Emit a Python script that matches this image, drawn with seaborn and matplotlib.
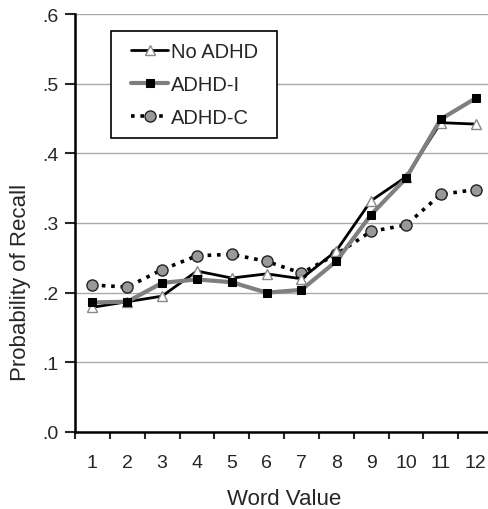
import numpy as np
import pandas as pd
import matplotlib
matplotlib.use("Agg")
import matplotlib.pyplot as plt
from matplotlib.lines import Line2D
from matplotlib.legend_handler import HandlerLine2D
import seaborn as sns

# values
word_value = list(range(1, 13))
no_adhd = [0.179, 0.187, 0.195, 0.231, 0.221, 0.227, 0.220, 0.260, 0.332, 0.366, 0.444, 0.442]
adhd_i = [0.186, 0.187, 0.214, 0.219, 0.215, 0.200, 0.204, 0.245, 0.312, 0.364, 0.449, 0.479]
adhd_c = [0.211, 0.208, 0.233, 0.253, 0.255, 0.245, 0.228, 0.255, 0.288, 0.297, 0.341, 0.348]
y_ticks = [0.0, 0.1, 0.2, 0.3, 0.4, 0.5, 0.6]
y_tick_labels = [".0", ".1", ".2", ".3", ".4", ".5", ".6"]

sns.set_style("white")
plt.rcParams["font.family"] = ["Liberation Sans", "DejaVu Sans"]

fig = plt.figure(figsize=(4.88, 5.10), dpi=100)
ax = fig.add_axes([75 / 488, 77 / 510, 418 / 488, 418 / 510])

df_c = pd.DataFrame({"x": word_value, "y": adhd_c})
df_n = pd.DataFrame({"x": word_value, "y": no_adhd})
df_i = pd.DataFrame({"x": word_value, "y": adhd_i})

sns.lineplot(data=df_c, x="x", y="y", ax=ax, color="black", linestyle=(0, (1, 1.6)),
             linewidth=2.6, marker="o", markersize=8, markerfacecolor="#999999",
             markeredgecolor="#222222", markeredgewidth=1.0, label="ADHD-C", zorder=3)
sns.lineplot(data=df_n, x="x", y="y", ax=ax, color="black", linewidth=2.0,
             marker="^", markersize=7.5, markerfacecolor="white",
             markeredgecolor="#888888", markeredgewidth=1.0, label="No ADHD", zorder=4)
sns.lineplot(data=df_i, x="x", y="y", ax=ax, color="#7f7f7f", linewidth=3.0,
             marker="s", markersize=6.2, markerfacecolor="black",
             markeredgecolor="black", label="ADHD-I", zorder=5)

ax.set_xlim(0.5, 12.5)
ax.set_ylim(0, 0.6)
ax.set_yticks(y_ticks)
ax.set_yticklabels(y_tick_labels)
ax.set_xticks(word_value)
ax.set_xticks(np.arange(0.5, 13, 1), minor=True)
ax.tick_params(axis="x", which="major", length=0, labelsize=14, pad=16)
ax.tick_params(axis="x", which="minor", length=5, width=1.5, direction="out", bottom=True)
ax.tick_params(axis="y", length=7, width=1.5, direction="out", left=True, labelsize=14, pad=5)

ax.yaxis.grid(True, color="#aaaaaa", linewidth=1)
ax.set_axisbelow(True)
for side in ["top", "right"]:
    ax.spines[side].set_visible(False)
for side in ["left", "bottom"]:
    ax.spines[side].set_color("black")
    ax.spines[side].set_linewidth(1.8)

ax.set_xlabel("Word Value", fontsize=16, labelpad=12)
ax.set_ylabel("Probability of Recall", fontsize=16, labelpad=8, y=0.36)

handles, labels = ax.get_legend_handles_labels()
order = [labels.index(n) for n in ["No ADHD", "ADHD-I", "ADHD-C"]]
leg = ax.legend([handles[i] for i in order], [labels[i] for i in order],
                loc="upper left", mode="expand",
                bbox_to_anchor=(36 / 418, 1 - 17 / 418, 166 / 418, 0.0),
                handler_map={Line2D: HandlerLine2D(xpad=0.45)},
                fontsize=14.5, frameon=True, fancybox=False, edgecolor="black",
                framealpha=1, handlelength=2.3, handletextpad=0.15,
                labelspacing=0.7, borderpad=0.55, borderaxespad=0)
leg.get_frame().set_linewidth(1.2)

fig.savefig("out.png", dpi=100)
